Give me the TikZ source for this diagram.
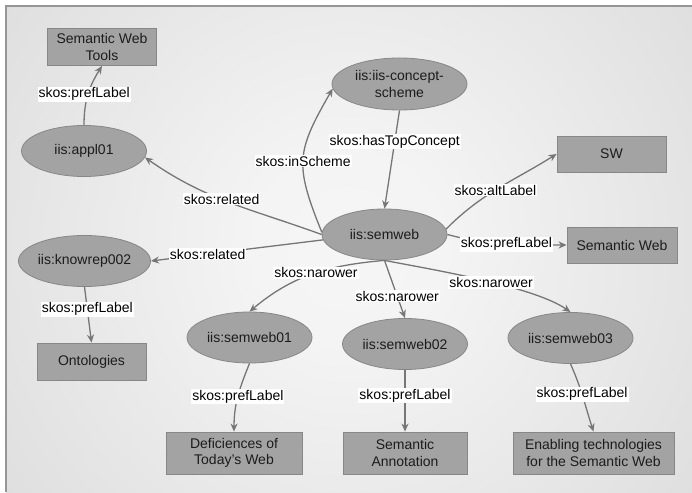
\documentclass[tikz,border=0pt]{standalone}
\usepackage{fontspec}
\setmainfont{Liberation Sans}
\usetikzlibrary{arrows.meta,shapes.geometric}

\definecolor{shapefill}{RGB}{163,163,163}
\definecolor{shapeline}{RGB}{135,135,135}
\definecolor{edgecol}{RGB}{118,118,118}
\definecolor{txt}{RGB}{28,28,28}
\definecolor{framecol}{RGB}{150,150,150}

% circular light-to-grey backdrop
\pgfdeclareradialshading{panelshade}{\pgfpoint{0bp}{0bp}}{%
  rgb(0bp)=(0.965,0.965,0.965); rgb(6bp)=(0.955,0.955,0.955);
  rgb(50bp)=(0.77,0.77,0.77)}

\begin{document}
\begin{tikzpicture}[x=1pt,y=1pt,
  every node/.style={font=\fontsize{14}{16.5}\selectfont},
  concept/.style={ellipse, draw=shapeline, fill=shapefill, line width=0.8pt,
    minimum width=125pt, minimum height=51pt, inner sep=0pt, text=txt, align=center},
  literal/.style={rectangle, draw=shapeline, fill=shapefill, line width=0.8pt,
    minimum width=109pt, minimum height=37pt, inner sep=0pt, text=txt, align=center},
  rel/.style={draw=edgecol, line width=1.3pt,
    -{Stealth[length=8pt,width=7pt,inset=2.5pt]}},
  lbl/.style={fill=white, inner sep=1pt, text=black}
]
\useasboundingbox (0,0) rectangle (692,492);
\fill[white] (0,0) rectangle (692,492);

% backdrop panel
\begin{scope}
  \clip (6,0) rectangle (692,486);
  \fill[shading=panelshade] (-71,-177) rectangle (769,663);
\end{scope}
\draw[framecol, line width=1.2pt] (6,0) -- (6,486) -- (692,486);

% concepts
\node[concept] (appl01)   at (84,341)    {iis:appl01};
\node[concept, minimum width=135pt, minimum height=52pt] (scheme) at (399.5,408) {iis:iis-concept-\\scheme};
\node[concept] (semweb)   at (384.5,257.5) {iis:semweb};
\node[concept] (knowrep)  at (84.5,231)  {iis:knowrep002};
\node[concept] (semweb01) at (249.5,154.5) {iis:semweb01};
\node[concept] (semweb02) at (405,148)   {iis:semweb02};
\node[concept] (semweb03) at (570.5,154) {iis:semweb03};

% literals
\node[literal] (swtools)    at (102,445)   {Semantic Web\\Tools};
\node[literal, minimum height=36pt] (sw) at (611.5,338) {SW};
\node[literal, minimum width=110pt, minimum height=36pt] (semwebl) at (622,247) {Semantic Web};
\node[literal] (ontologies) at (91.5,130.5) {Ontologies};
\node[literal, minimum width=136pt, minimum height=42pt] (deficiences) at (234,39) {Deficiences of\\Today's Web};
\node[literal, minimum width=124pt, minimum height=42pt] (annotation)  at (405,39) {Semantic\\Annotation};
\node[literal, minimum width=161pt, minimum height=42pt] (enabling)    at (593.5,39) {Enabling technologies\\for the Semantic Web};

% relations
\draw[rel] (appl01.north) to[out=90,in=-122] node[lbl,xshift=-4pt]{skos:prefLabel} (swtools.south);
\draw[rel] (semweb.west) to[out=160,in=-35] node[lbl,pos=0.55]{skos:related} (appl01.-6);
\draw[rel] (semweb.178) to[out=112,in=-120,looseness=1.3] node[lbl,pos=0.48]{skos:inScheme} (scheme.184);
\draw[rel] (scheme.south) -- node[lbl,pos=0.32]{skos:hasTopConcept} (semweb.north);
\draw[rel] (semweb.5) to[out=45,in=-148] node[lbl,pos=0.47]{skos:altLabel} (sw.west);
\draw[rel] (semweb.east) to[out=-15,in=180] node[lbl]{skos:prefLabel} (semwebl.west);
\draw[rel] (semweb.-175) -- node[lbl,pos=0.67]{skos:related} (knowrep.east);
\draw[rel] (knowrep.south) -- node[lbl,pos=0.4]{skos:prefLabel} (ontologies.north);
\draw[rel] (semweb.south) to[out=185,in=40] node[lbl,pos=0.47]{skos:narower} (semweb01.north);
\draw[rel] (semweb.south) -- node[lbl,pos=0.62]{skos:narower} (semweb02.north);
\draw[rel] (semweb.south) to[out=-11,in=145,looseness=0.6] node[lbl,pos=0.55]{skos:narower} (semweb03.north);
\draw[rel] (semweb01.south) to[out=-112,in=90] node[lbl]{skos:prefLabel} (deficiences.north);
\draw[rel] (semweb02.south) -- node[lbl,pos=0.42]{skos:prefLabel} (annotation.north);
\draw[rel] (semweb03.south) to[out=-66,in=108] node[lbl,pos=0.45]{skos:prefLabel} (enabling.north);
\end{tikzpicture}
\end{document}
